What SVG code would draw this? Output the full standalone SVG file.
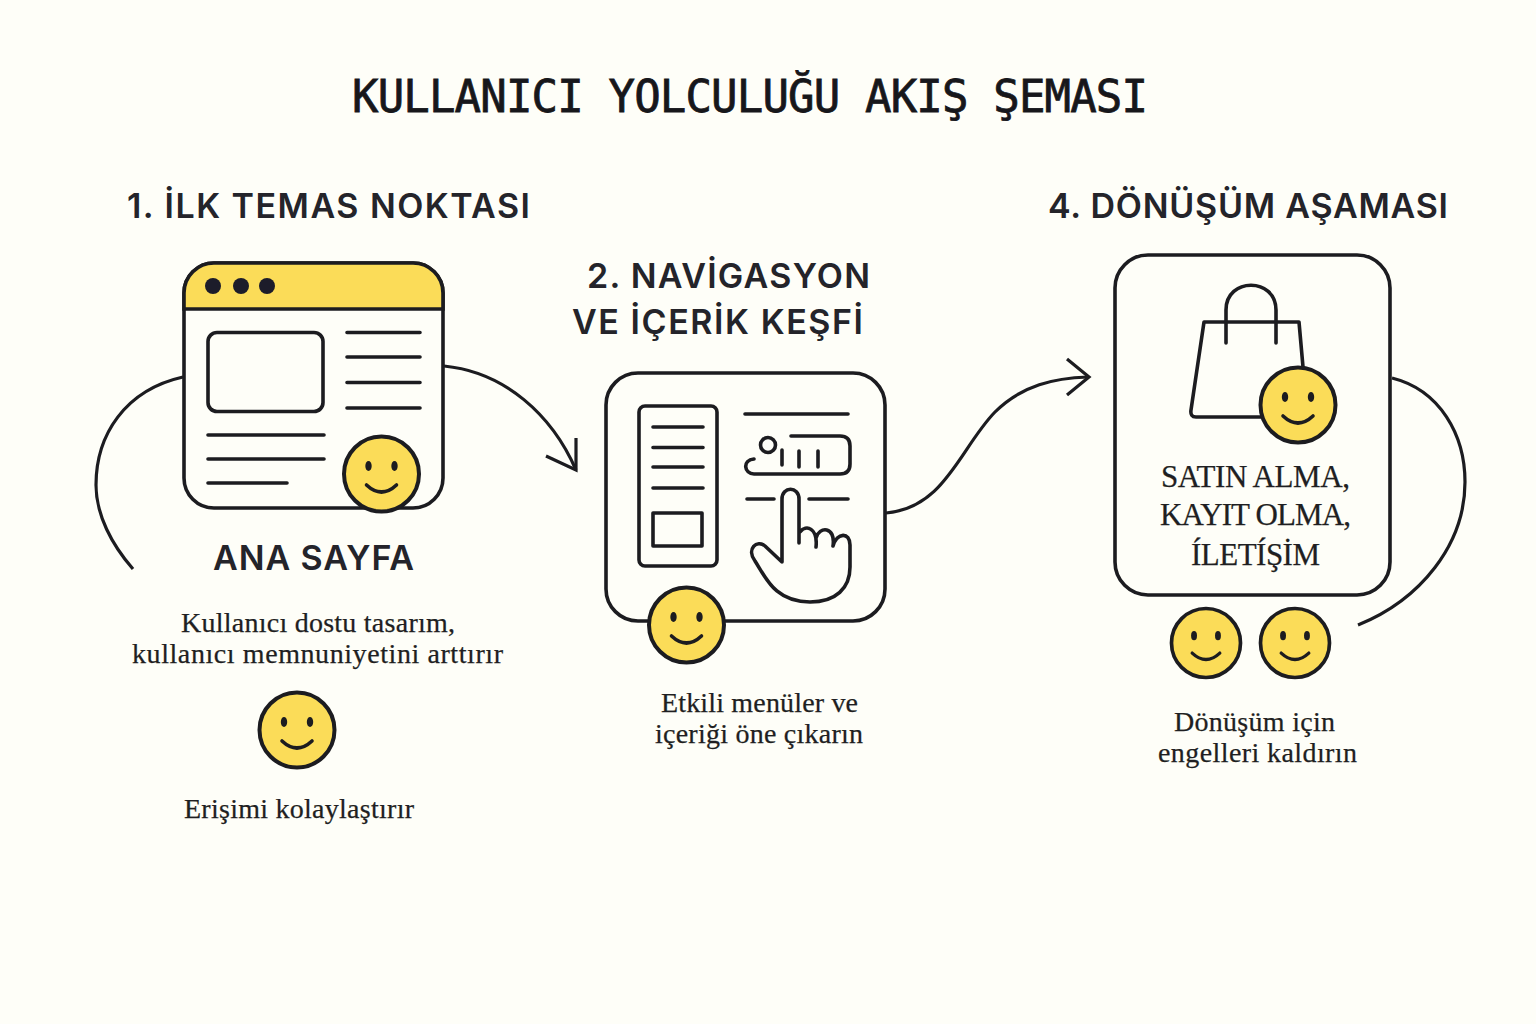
<svg xmlns="http://www.w3.org/2000/svg" xmlns:xlink="http://www.w3.org/1999/xlink" width="1536" height="1024" viewBox="0 0 1536 1024">
<style>
.s{fill:none;stroke:#1c1c20;stroke-width:3.6;stroke-linecap:round;stroke-linejoin:round}
.b{fill:#fefef8;stroke:#1c1c20;stroke-width:3.6}
.c{fill:none;stroke:#1c1c20;stroke-width:3.2;stroke-linecap:butt;stroke-linejoin:miter}
.t{font-family:"DejaVu Sans Mono","Liberation Mono",monospace;font-size:44px;fill:#17171b;stroke:#17171b;stroke-width:.8}
.h{font-family:Inter,"Noto Sans",sans-serif;font-weight:600;font-size:34px;fill:#24242a}
.d{font-family:"Liberation Serif","DejaVu Serif",serif;font-size:28px;fill:#1f1f22;stroke:#1f1f22;stroke-width:.25}
.m{font-family:"Liberation Serif","DejaVu Serif",serif;font-size:31px;fill:#1f1f22;stroke:#1f1f22;stroke-width:.25}
</style>
<defs>
<g id="smile">
<circle r="37.500" fill="#fbdc58" stroke="#1c1c20" stroke-width="4"/>
<ellipse cx="-13" cy="-8" rx="3.200" ry="5" fill="#1c1c20"/>
<ellipse cx="13" cy="-8" rx="3.200" ry="5" fill="#1c1c20"/>
<path d="M-15 11Q0 25 15 11" fill="none" stroke="#1c1c20" stroke-width="3.600" stroke-linecap="round"/>
</g>
</defs>
<rect width="1536" height="1024" fill="#fefef8"/>
<text class="t" x="352" y="112" textLength="796" lengthAdjust="spacing">KULLANICI YOLCULUĞU AKIŞ ŞEMASI</text>

<g id="connectors">
<path class="c" d="M183 377C125 390 96 435 96 485C96 515 112 545 133 569"/>
<path class="c" d="M444 366C505 372 552 415 576 470"/>
<path class="c" d="M546 456L576 470L576 438"/>
<path class="c" d="M886 513C945 508 960 448 995 412C1022 385 1055 378 1088 377"/>
<path class="c" d="M1067 359L1089 377L1067 395"/>
<path class="c" d="M1392 378C1440 390 1465 435 1465 482C1465 545 1420 600 1358 625"/>
</g>

<g id="node-1">
<text class="h" x="127" y="218" textLength="403">1. İLK TEMAS NOKTASI</text>
<rect class="b" x="184" y="263" width="259" height="245" rx="30"/>
<path d="M184 309V293A30 30 0 0 1 214 263H413A30 30 0 0 1 443 293V309Z" fill="#fbdc58" stroke="#1c1c20" stroke-width="3.6"/>
<circle cx="213" cy="286" r="8" fill="#1c1c2a"/><circle cx="241" cy="286" r="8" fill="#1c1c2a"/><circle cx="267" cy="286" r="8" fill="#1c1c2a"/>
<rect class="s" x="208" y="332.500" width="115" height="79" rx="9"/>
<path class="s" d="M347 332.500H420M347 357H420M347 382.500H420M347 408H420M208 435H324M208 459H324M208 483H287"/>
<use xlink:href="#smile" href="#smile" transform="translate(381.500 474)"/>
<text class="h" x="213" y="570" textLength="201">ANA SAYFA</text>
<text class="d" x="181" y="632" textLength="274">Kullanıcı dostu tasarım,</text>
<text class="d" x="132" y="663" textLength="371">kullanıcı memnuniyetini arttırır</text>
<use xlink:href="#smile" href="#smile" transform="translate(297 730)"/>
<text class="d" x="184" y="818" textLength="230">Erişimi kolaylaştırır</text>
</g>

<g id="node-2">
<text class="h" x="587" y="288" textLength="283">2. NAVİGASYON</text>
<text class="h" x="572" y="334" textLength="291">VE İÇERİK KEŞFİ</text>
<rect class="b" x="606" y="373" width="279" height="248" rx="32"/>
<rect class="s" x="639" y="406" width="78" height="160" rx="6"/>
<path class="s" d="M653 427H703M653 447.500H703M653 467H703M653 488H703"/>
<rect class="s" x="653" y="513" width="49" height="33"/>
<path class="s" d="M745 414H848M791 436H840Q850 436 850 446V464Q850 474 840 474H754C744 474 742 460 754 459"/>
<circle class="s" cx="768" cy="445" r="7.500"/>
<path class="s" d="M782 450V465M799 451V467M818 451V467M747 499H774M809 499H848"/>
<path class="s" d="M799 543V499C799 486 782 486 782 499V562L765 546C757 539 746 549 755 561C766 578 775 602 810 602C836 602 850 588 850 567V545C850 532 837 532 833 546M833 546C836 526 819 526 816 538M816 547C818 528 806 524 800 532"/>
<use xlink:href="#smile" href="#smile" transform="translate(686.500 625)"/>
<text class="d" x="661" y="712" textLength="197">Etkili menüler ve</text>
<text class="d" x="655" y="743" textLength="208">içeriği öne çıkarın</text>
</g>

<g id="node-4">
<text class="h" x="1048" y="218" textLength="400">4. DÖNÜŞÜM AŞAMASI</text>
<rect class="b" x="1115" y="255" width="275" height="340" rx="33"/>
<path class="s" d="M1303 367L1299 322H1204L1191 410Q1190 417 1196 417H1262M1226 343V310C1226 277 1276 277 1276 310V343"/>
<use xlink:href="#smile" href="#smile" transform="translate(1298 405)"/>
<text class="m" x="1161" y="487" textLength="189">SATIN ALMA,</text>
<text class="m" x="1160" y="525" textLength="191">KAYIT OLMA,</text>
<text class="m" x="1191" y="565" textLength="129">ÍLETÍŞİM</text>
<use xlink:href="#smile" href="#smile" transform="translate(1206 643) scale(.92)"/>
<use xlink:href="#smile" href="#smile" transform="translate(1295 643) scale(.92)"/>
<text class="d" x="1174" y="731" textLength="161">Dönüşüm için</text>
<text class="d" x="1158" y="762" textLength="199">engelleri kaldırın</text>
</g>
</svg>
